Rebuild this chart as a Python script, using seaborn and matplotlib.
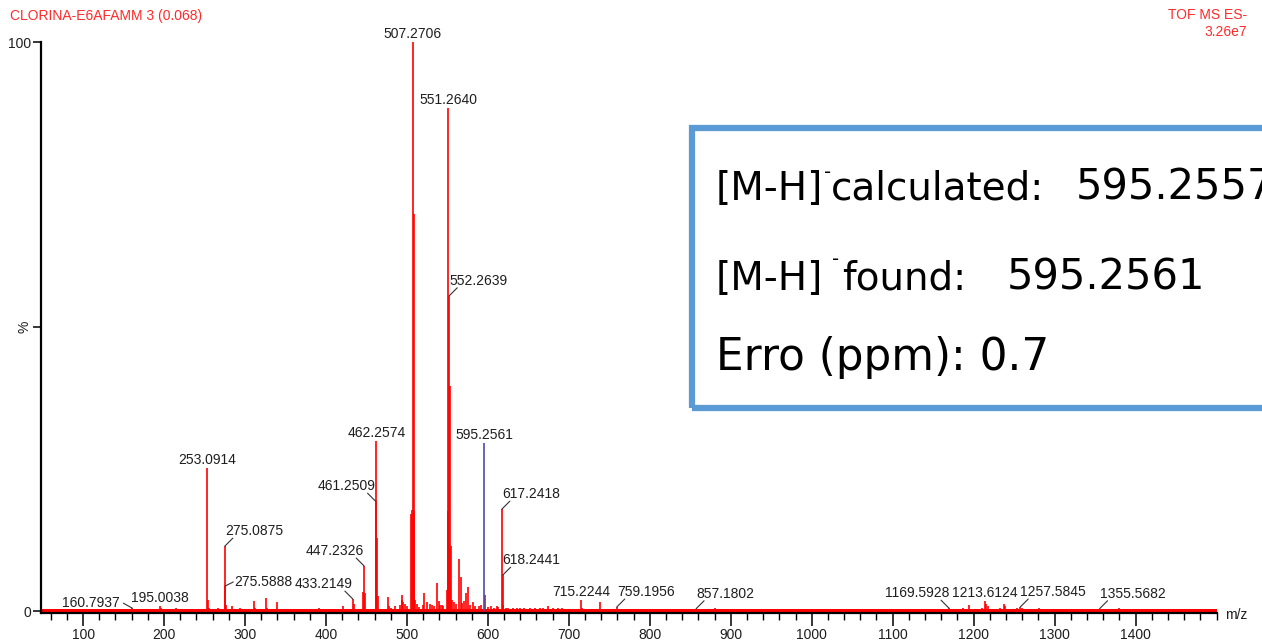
import matplotlib
matplotlib.use("Agg")
import matplotlib.pyplot as plt
from matplotlib.patches import Rectangle
from matplotlib.ticker import MultipleLocator
import pandas as pd
import seaborn as sns

# ---- spectrum data: m/z and relative intensity (%) ----
# annotated peaks
label_mz = [160.7937, 195.0038, 253.0914, 275.0875, 275.5888, 433.2149, 447.2326,
            461.2509, 462.2574, 507.2706, 551.2640, 552.2639, 595.2561, 617.2418,
            618.2441, 715.2244, 759.1956, 857.1802, 1169.5928, 1213.6124,
            1257.5845, 1355.5682]
label_int = [0.5, 0.8, 25.1, 11.4, 4.4, 2.1, 7.9,
             19.3, 29.9, 100.0, 88.4, 55.4, 29.5, 17.9,
             6.3, 2.0, 0.7, 0.4, 0.5, 1.8,
             0.7, 0.4]

# other (unlabelled) peaks
other_mz = [185.0, 196.0, 215.0, 220.0, 254.1, 255.1, 267.0, 276.1, 283.5, 294.0,
            311.0, 312.0, 326.0, 327.0, 340.0, 347.0, 360.0, 392.0, 420.7, 434.2,
            446.2, 448.2, 463.26, 464.26, 476.7, 477.7, 480.0, 485.0, 491.5, 493.5,
            494.5, 495.5, 498.0, 500.0, 505.3, 506.3, 508.27, 509.27, 510.3, 512.0,
            515.0, 519.5, 521.5, 524.5, 528.5, 531.0, 533.0, 536.8, 539.2, 540.8,
            543.0, 545.0, 549.3, 550.27, 553.27, 554.27, 555.3, 558.0, 560.0, 564.6,
            566.2, 568.2, 570.0, 572.7, 575.2, 578.0, 581.3, 584.0, 589.5, 592.0,
            596.26, 600.0, 604.0, 607.0, 611.0, 613.0, 619.24, 622.0, 625.0, 631.0,
            636.0, 640.0, 645.0, 652.0, 658.0, 664.0, 668.0, 674.0, 680.0, 686.0,
            692.0, 700.0, 716.2, 738.5, 761.0, 783.0, 837.5, 880.6, 1150.0, 1187.0,
            1194.0, 1210.0, 1215.6, 1217.6, 1232.0, 1237.0, 1239.0, 1253.3, 1259.6,
            1281.0, 1380.0]
other_int = [0.3, 0.5, 0.6, 0.4, 2.0, 0.5, 0.6, 1.0, 0.8, 0.5,
             1.8, 0.6, 2.2, 0.6, 1.6, 0.4, 0.3, 0.5, 0.8, 1.3,
             3.3, 3.2, 12.9, 2.6, 2.5, 0.8, 0.6, 0.9, 1.1, 2.0,
             2.8, 1.5, 1.2, 0.8, 17.0, 17.8, 69.7, 17.5, 2.0, 1.2,
             0.7, 1.0, 3.1, 1.6, 1.3, 1.0, 0.8, 4.9, 1.8, 1.0,
             1.1, 0.9, 3.7, 17.5, 39.5, 11.4, 2.0, 1.6, 1.2, 9.1,
             6.0, 1.4, 1.8, 3.2, 4.3, 1.0, 1.5, 0.8, 0.9, 1.0,
             2.9, 0.7, 0.9, 0.6, 0.8, 0.7, 1.0, 0.6, 0.5, 0.5,
             0.6, 0.5, 0.6, 0.5, 0.6, 0.5, 0.6, 0.9, 0.5, 0.5,
             0.6, 0.4, 0.6, 1.5, 0.4, 0.4, 0.3, 0.5, 0.4, 0.5,
             1.0, 0.6, 1.2, 0.8, 0.6, 1.3, 0.8, 0.5, 0.5,
             0.5, 0.5]

highlight_mz = 595.2561
noise_floor = 0.35
mz_range = (48, 1500)
x_ticks = list(range(100, 1500, 100))

title_left = "CLORINA-E6AFAMM 3 (0.068)"
title_right = ["TOF MS ES-", "3.26e7"]

# ---- layout of the peak annotations (pixel offsets) ----
label_style = ["side_left", "up", "up", "right", "side_right", "left", "left",
               "left", "up", "up", "up", "right", "up", "right",
               "right", "up", "right", "right", "left", "up",
               "right", "right"]
styles = {
    #            text offset, ha, leader end
    "up":         ((0, 4), "center", None),
    "right":      ((0, 11), "left", (8, 8)),
    "left":       ((0, 11), "right", (-8, 8)),
    "side_right": ((9, 0), "left", (8, 4)),
    "side_left":  ((-13, 1), "right", (-9, 5)),
}

W, H = 1262, 640
RED = "#ff0000"
BLUE = "#4b4bab"
TXT = "#1e1e1e"

sns.set_theme(style="ticks")
plt.rcParams["font.family"] = ["Liberation Sans", "DejaVu Sans"]

peaks = pd.DataFrame({"mz": label_mz + other_mz, "intensity": label_int + other_int})
peaks["colour"] = [BLUE if abs(m - highlight_mz) < 1e-6 else RED for m in peaks["mz"]]
peaks = peaks.sort_values("colour", ascending=False)

fig = plt.figure(figsize=(W / 100, H / 100), dpi=100)
ax = fig.add_axes([41 / W, (H - 613) / H, 1175.5 / W, 571 / H])

# noise floor along the baseline
ax.fill_between(mz_range, -noise_floor, noise_floor, color=RED, lw=0)
# peak sticks
ax.vlines(peaks["mz"], 0, peaks["intensity"], colors=peaks["colour"], lw=1.2)

ax.set_xlim(*mz_range)
ax.set_ylim(-noise_floor, 100)

# annotations
for mz, inten, st in zip(label_mz, label_int, label_style):
    (dx, dy), ha, lead = styles[st]
    ax.annotate(f"{mz:.4f}", xy=(mz, inten), xytext=(dx, dy),
                textcoords="offset pixels", ha=ha, va="baseline",
                fontsize=10, color=TXT, annotation_clip=False)
    if lead is not None:
        ax.annotate("", xy=(mz, inten), xytext=lead, textcoords="offset pixels",
                    arrowprops=dict(arrowstyle="-", color="#333333", lw=0.8,
                                    shrinkA=0, shrinkB=0),
                    annotation_clip=False)

# axes styling
sns.despine(ax=ax)
for side in ("left", "bottom"):
    ax.spines[side].set_linewidth(1.6)
    ax.spines[side].set_color("black")
ax.set_xticks(x_ticks)
ax.xaxis.set_minor_locator(MultipleLocator(20))
ax.tick_params(axis="x", which="major", length=9, width=1.1, direction="out",
               labelsize=10, pad=2, colors="black", labelcolor=TXT)
ax.tick_params(axis="x", which="minor", length=5, width=1.0, direction="out",
               colors="black")
ax.set_yticks([0, 50, 100])
ax.set_yticklabels(["0", "%", "100"])
ax.get_yticklabels()[1].set_rotation(90)
ax.tick_params(axis="y", length=6, width=1.1, direction="out", labelsize=10,
               pad=1, colors="black", labelcolor=TXT)
ax.grid(False)


def fx(x):
    return x / W


def fy(y):
    return 1 - y / H


fig.text(fx(1225), fy(615), "m/z", fontsize=10, color=TXT, va="center", ha="left")

# header
fig.text(fx(10), fy(16), title_left, fontsize=10, color="#ff2a2a", va="center", ha="left")
fig.text(fx(1247), fy(15), title_right[0], fontsize=10, color="#ff2a2a", va="center", ha="right")
fig.text(fx(1247), fy(32), title_right[1], fontsize=10, color="#ff2a2a", va="center", ha="right")

# result box (runs past the right edge of the figure)
fig.add_artist(Rectangle((fx(692), fy(408)), (1320 - 692) / W, (408 - 128) / H,
                         transform=fig.transFigure, fill=False,
                         edgecolor="#5b9bd5", lw=4.5))
box_font = dict(family="DejaVu Sans", color="black", va="baseline", ha="left")
fig.text(fx(716), fy(200), "[M-H]", fontsize=28, **box_font)
fig.text(fx(824), fy(178), "-", fontsize=14, **box_font)
fig.text(fx(831), fy(200), "calculated:", fontsize=28, **box_font)
fig.text(fx(1076), fy(200), "595.2557", fontsize=30, **box_font)
fig.text(fx(716), fy(290), "[M-H]", fontsize=28, **box_font)
fig.text(fx(832), fy(265), "-", fontsize=14, **box_font)
fig.text(fx(842), fy(290), "found:", fontsize=28, **box_font)
fig.text(fx(1007), fy(290), "595.2561", fontsize=30, **box_font)
fig.text(fx(716), fy(370), "Erro (ppm): 0.7", fontsize=31.5, **box_font)

fig.savefig("out.png", dpi=100)
